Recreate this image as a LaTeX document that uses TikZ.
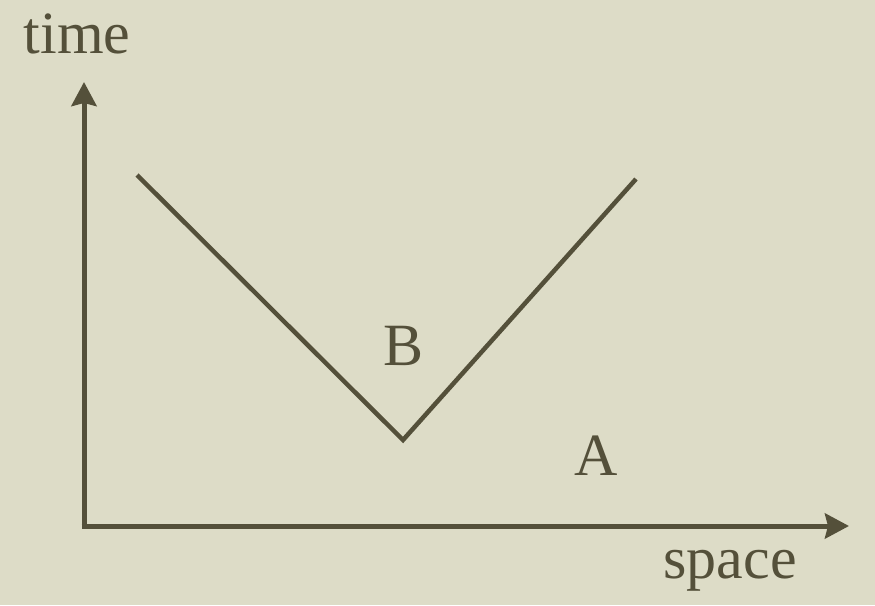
\documentclass[tikz,border=0pt]{standalone}
\usepackage{fontspec}
\setmainfont{Liberation Serif}
\usetikzlibrary{arrows.meta}
\definecolor{bg}{RGB}{221,220,199}
\definecolor{ink}{RGB}{84,80,58}
\tikzset{
  axis/.style={draw=ink, line width=5pt, -{Stealth[length=24pt,width=25pt,inset=3pt]}},
  vline/.style={draw=ink, line width=4.5pt, line join=miter},
  lbl/.style={text=ink, font=\fontsize{60}{66}\selectfont, anchor=base, inner sep=0pt}
}
\begin{document}
\begin{tikzpicture}[x=1pt,y=-1pt]
\fill[bg] (0,0) rectangle (875,605);
\useasboundingbox (0,0) rectangle (875,605);
\coordinate (origin) at (84,526);
\coordinate (ytop) at (84,82);
\coordinate (xend) at (849,526);
\coordinate (vl) at (137,175);
\coordinate (vb) at (403,440);
\coordinate (vr) at (636,179);
\draw[axis] ([yshift=2.5pt]origin) -- (ytop);
\draw[axis] ([xshift=-2.5pt]origin) -- (xend);
\draw[vline] (vl) -- (vb) -- (vr);
\node[lbl] (time) at (77,53) {time};
\node[lbl] (B) at (404,365) {B};
\node[lbl] (A) at (596,475) {A};
\node[lbl] (space) at (730,578) {space};
\end{tikzpicture}
\end{document}
